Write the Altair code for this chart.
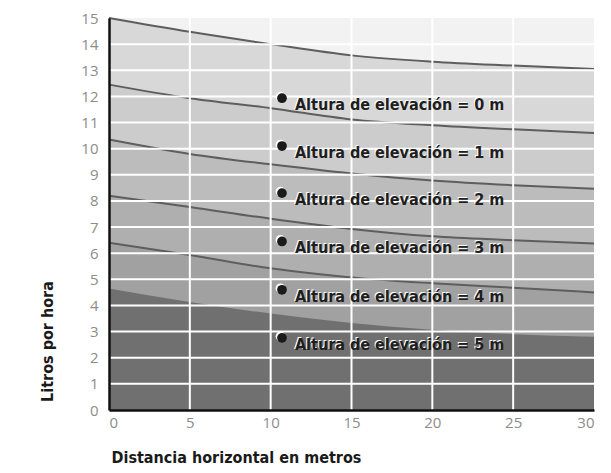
import altair as alt
import pandas as pd

distance = [0, 5, 10, 15, 20, 25, 30]
h0 = [15.0, 14.47, 14.0, 13.57, 13.33, 13.18, 13.05]
h1 = [12.45, 11.93, 11.55, 11.12, 10.9, 10.74, 10.6]
h2 = [10.35, 9.8, 9.4, 9.05, 8.78, 8.6, 8.47]
h3 = [8.2, 7.77, 7.32, 6.93, 6.65, 6.5, 6.37]
h4 = [6.4, 5.93, 5.42, 5.07, 4.85, 4.68, 4.5]
h5 = [4.65, 4.13, 3.69, 3.33, 3.07, 2.9, 2.8]
series = [h0, h1, h2, h3, h4, h5]

x_ticks = [0, 5, 10, 15, 20, 25, 30]
y_ticks = list(range(16))
grid_x = [5, 10, 15, 20, 25]
grid_y = list(range(1, 15))

labels = ["Altura de elevación = 0 m", "Altura de elevación = 1 m",
          "Altura de elevación = 2 m", "Altura de elevación = 3 m",
          "Altura de elevación = 4 m", "Altura de elevación = 5 m"]
label_x = [10.7] * 6
label_y = [11.93, 10.1, 8.3, 6.45, 4.6, 2.76]

fills = ["#d8d8d8", "#cccccc", "#bcbcbc", "#afafaf", "#a1a1a1", "#707070"]
LABEL_FONT = "Liberation Sans Narrow, DejaVu Sans Condensed, Roboto, sans-serif"
NUM_FONT = "Open Sans, Lato, sans-serif"

xs = alt.Scale(domain=[0, 30], nice=False)
ys = alt.Scale(domain=[0, 15], nice=False)

x_axis = alt.Axis(values=x_ticks, title="Distancia horizontal en metros",
                  grid=False, domainColor="#111111", domainWidth=2.5, ticks=False,
                  labelFont=NUM_FONT, labelFontSize=15, labelColor="#8c8c8c",
                  labelPadding=5,
                  titleFont=LABEL_FONT, titleFontSize=16, titleFontWeight="bold",
                  titleColor="#1a1a1a", titleX=2, titleY=47, titleAlign="left",
                  titleBaseline="middle", zindex=1)
y_axis = alt.Axis(values=y_ticks, title="Litros por hora",
                  grid=False, domainColor="#111111", domainWidth=2.5, ticks=False,
                  labelFont=NUM_FONT, labelFontSize=15, labelColor="#8c8c8c",
                  labelPadding=11,
                  titleFont=LABEL_FONT, titleFontSize=16, titleFontWeight="bold",
                  titleColor="#1a1a1a", titleX=-62, titleY=323, titleAlign="center",
                  titleBaseline="middle", titleAngle=-90, zindex=1)

X = lambda f: alt.X(f, scale=xs, axis=x_axis)
Y = lambda f: alt.Y(f, scale=ys, axis=y_axis)

layers = []
for i, s in enumerate(series):
    df = pd.DataFrame({"d": distance, "v": s})
    layers.append(alt.Chart(df).mark_area(color=fills[i], interpolate="monotone")
                  .encode(x=X("d:Q"), y=Y("v:Q")))
for i, s in enumerate(series[:5]):
    df = pd.DataFrame({"d": distance, "v": s})
    layers.append(alt.Chart(df).mark_line(color="#5e5e5e", strokeWidth=2, interpolate="monotone")
                  .encode(x=X("d:Q"), y=Y("v:Q")))

# white grid lines over the bands
layers.append(alt.Chart(pd.DataFrame({"g": grid_y})).mark_rule(color="white", strokeWidth=2)
              .encode(y=Y("g:Q")))
layers.append(alt.Chart(pd.DataFrame({"g": grid_x})).mark_rule(color="white", strokeWidth=2)
              .encode(x=X("g:Q")))

ldf = pd.DataFrame({"x": label_x, "y": label_y, "t": labels})
base = alt.Chart(ldf).encode(x=X("x:Q"), y=Y("y:Q"))
layers.append(base.mark_point(filled=True, color="white", size=95, opacity=1, xOffset=-1.5, yOffset=-1.5))
layers.append(base.mark_point(filled=True, color="#1a1a1a", size=95, opacity=1))
layers.append(base.mark_text(align="left", baseline="alphabetic", dx=12, dy=11, font=LABEL_FONT,
                             fontSize=16, fontWeight="bold", color="white").encode(text="t:N"))
layers.append(base.mark_text(align="left", baseline="alphabetic", dx=13, dy=12, font=LABEL_FONT,
                             fontSize=16, fontWeight="bold", color="#1e1e1e").encode(text="t:N"))

chart = alt.layer(*layers).properties(
    width=485, height=392,
    autosize=alt.AutoSizeParams(type="none"),
    padding={"left": 101, "top": 10, "right": 8, "bottom": 55},
).configure_view(fill="#f2f2f2", stroke=None)

chart.save("out.html", embed_options={"renderer": "svg", "actions": False})
